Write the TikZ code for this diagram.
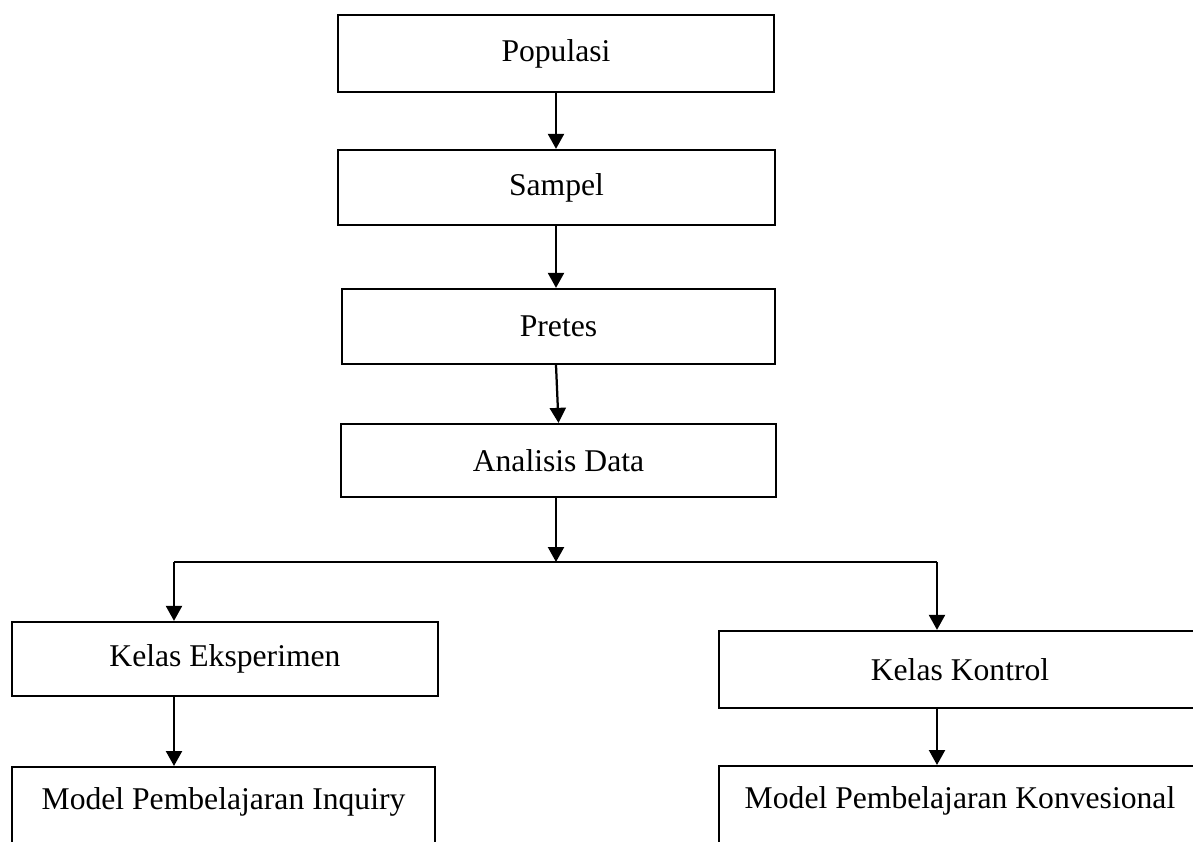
\documentclass[tikz,border=0pt]{standalone}
\usepackage{fontspec}
\setmainfont{Liberation Serif}
\usetikzlibrary{arrows.meta,calc}
\begin{document}
\begin{tikzpicture}[x=0.025cm,y=-0.025cm,line width=1.6pt,>={Triangle[length=0.375cm,width=0.4cm]},
	font=\fontsize{22.5}{27}\selectfont,
	kotak/.style={draw,rectangle,inner sep=0pt,minimum height=1.9cm},
	kotakbawah/.style={draw,rectangle,anchor=north,inner sep=0pt,text height=30pt,text depth=4cm}]
	\useasboundingbox (0,0) rectangle (1193,842);
	\clip (0,0) rectangle (1193,842);
	% alur utama
	\node[kotak,minimum width=10.9cm,minimum height=1.925cm] (pop) at (556,53.5) {Populasi};
	\node[kotak,minimum width=10.925cm,minimum height=1.875cm] (smp) at (556.5,187.5) {Sampel};
	\node[kotak,minimum width=10.825cm,minimum height=1.875cm] (pre) at (558.5,326.5) {Pretes};
	\node[kotak,minimum width=10.875cm,minimum height=1.825cm] (ana) at (558.5,460.5) {Analisis Data};
	\draw[->] (pop.south) -- (pop.south |- smp.north);
	\draw[->] (pop.south |- smp.south) -- (pop.south |- pre.north);
	\draw[->] (pop.south |- pre.south) -- (ana.north);
	% percabangan
	\coordinate (cab) at (556,562);
	\coordinate (kiri) at (174,562);
	\coordinate (kanan) at (937,562);
	\draw[->] (cab |- ana.south) -- (cab);
	\draw (kiri) -- (kanan);
	% kelas eksperimen
	\node[kotak,minimum width=10.65cm,minimum height=1.85cm] (eks) at (225,659) {Kelas Eksperimen};
	\node[kotakbawah,minimum width=10.575cm] (inq) at (223.5,766) {Model Pembelajaran Inquiry};
	\draw[->] (kiri) -- (kiri |- eks.north);
	\draw[->] (kiri |- eks.south) -- (kiri |- inq.north);
	% kelas kontrol
	\node[kotak,minimum width=12.05cm,minimum height=1.925cm] (kon) at (960,669.5) {Kelas Kontrol};
	\node[kotakbawah,minimum width=12.05cm] (kvs) at (960,765) {Model Pembelajaran Konvesional};
	\draw[->] (kanan) -- (kanan |- kon.north);
	\draw[->] (kanan |- kon.south) -- (kanan |- kvs.north);
\end{tikzpicture}
\end{document}
